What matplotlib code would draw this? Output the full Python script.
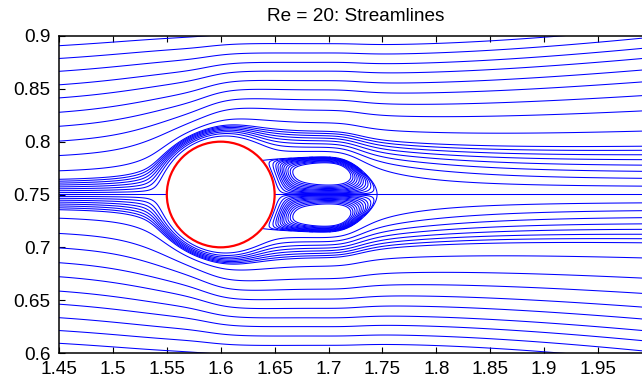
import numpy as np
import matplotlib.pyplot as plt
from matplotlib.patches import Circle

plt.rcParams['font.family'] = ['Liberation Sans', 'DejaVu Sans']

# Cylinder in a unit free stream
cyl_center = (1.6, 0.75)
cyl_radius = 0.05
u_inf = 1.0

# Wake model: centreline deficit inside the bubble, deficit behind it
# (far value, extra just after closure, decay length), bubble closure,
# where the wake switches on, Gaussian half-width (at the centre, linear
# growth, extra widening behind the bubble) and a thin wall layer
bubble_deficit = 1.19
tail_far, tail_extra, tail_decay = 0.78, 0.2, 0.1
closure_x, closure_w = 0.1225, 0.02
onset_x, onset_w = -0.012, 0.022
width0, width_growth, width_curve = 0.075, 0.12, 0.2
wall_slip, wall_layer = 0.8, 0.012

# Stream-function levels that get drawn
near_levels = [0.0016, 0.0032, 0.0048, 0.0064, 0.008, 0.0096, 0.0112, 0.0128]
outer_levels = [0.020, 0.033, 0.0455, 0.0585, 0.071, 0.084, 0.096, 0.1085,
                0.1205, 0.1325, 0.145, 0.157, 0.17]
bubble_fracs = [0.02, 0.06, 0.11, 0.16, 0.22, 0.28, 0.34, 0.41, 0.48, 0.55, 0.62]

x_ticks = [1.45, 1.5, 1.55, 1.6, 1.65, 1.7, 1.75, 1.8, 1.85, 1.9, 1.95]
x_labels = ['1.45', '1.5', '1.55', '1.6', '1.65', '1.7', '1.75', '1.8', '1.85', '1.9', '1.95']
y_ticks = [0.6, 0.65, 0.7, 0.75, 0.8, 0.85, 0.9]
y_labels = ['0.6', '0.65', '0.7', '0.75', '0.8', '0.85', '0.9']

# grid (even row count so no row sits exactly on the axis)
x = np.linspace(1.44, 2.01, 1141)
y = np.linspace(0.59, 0.91, 640)
X, Y = np.meshgrid(x, y)
xp = X - cyl_center[0]
yp = Y - cyl_center[1]
r2 = xp**2 + yp**2
body = 1 - cyl_radius**2 / r2

# centreline velocity deficit and wake width along x
onset = 0.5 * (1 + np.tanh((xp - onset_x) / onset_w))
tail = tail_far + tail_extra * np.exp(-(xp - 0.145) / tail_decay)
closure = 0.5 * (1 - np.tanh((xp - closure_x) / closure_w))
deficit = onset * (tail * (1 - closure) + bubble_deficit * closure)
half_width = (width0 + width_growth * xp
              + width_curve * np.clip(xp - 0.1, 0, None)**2)

wake = 1 - deficit * np.exp(-(yp / half_width)**2)
wall = 1 - wall_slip * np.exp(-((np.sqrt(r2) - cyl_radius) / wall_layer)**2)
psi = u_inf * body * yp * wake * wall

inside = r2 < cyl_radius**2
psi[inside] = np.nan
bubble = (psi * yp < 0) & (xp > 0)

psi_out = np.ma.array(psi, mask=inside | bubble)
psi_in = np.ma.array(psi, mask=inside | ~bubble)

psi_min = np.nanmin(np.where(bubble & (yp > 0), psi, np.nan))
bubble_levels = sorted([psi_min * f for f in bubble_fracs] +
                       [-psi_min * f for f in bubble_fracs])
flow_levels = sorted([-v for v in outer_levels + near_levels] + near_levels + outer_levels)

fig = plt.figure(figsize=(6.42, 3.82), dpi=100)
ax = fig.add_axes([59 / 642, 29 / 382, 593 / 642, 317 / 382])

line_kw = dict(colors='blue', linewidths=0.75, linestyles='solid')
ax.contour(X, Y, psi_out, levels=flow_levels, **line_kw)
ax.contour(X, Y, np.ma.array(psi, mask=inside), levels=[0.0], **line_kw)
ax.contour(X, Y, psi_in, levels=bubble_levels, **line_kw)
ax.add_patch(Circle(cyl_center, cyl_radius, fill=True, fc='white', ec='red',
                    lw=1.6, zorder=5))

ax.set_xlim(1.45, 2.0)
ax.set_ylim(0.6, 0.9)
ax.set_xticks(x_ticks)
ax.set_xticklabels(x_labels)
ax.set_yticks(y_ticks)
ax.set_yticklabels(y_labels)
ax.tick_params(direction='in', top=True, right=True, length=4, width=0.8,
               labelsize=13.7, pad=6)
for side in ax.spines.values():
    side.set_linewidth(1.1)
ax.set_title('Re = 20: Streamlines', fontsize=13.7, pad=11)

fig.savefig('out.png', dpi=100)
